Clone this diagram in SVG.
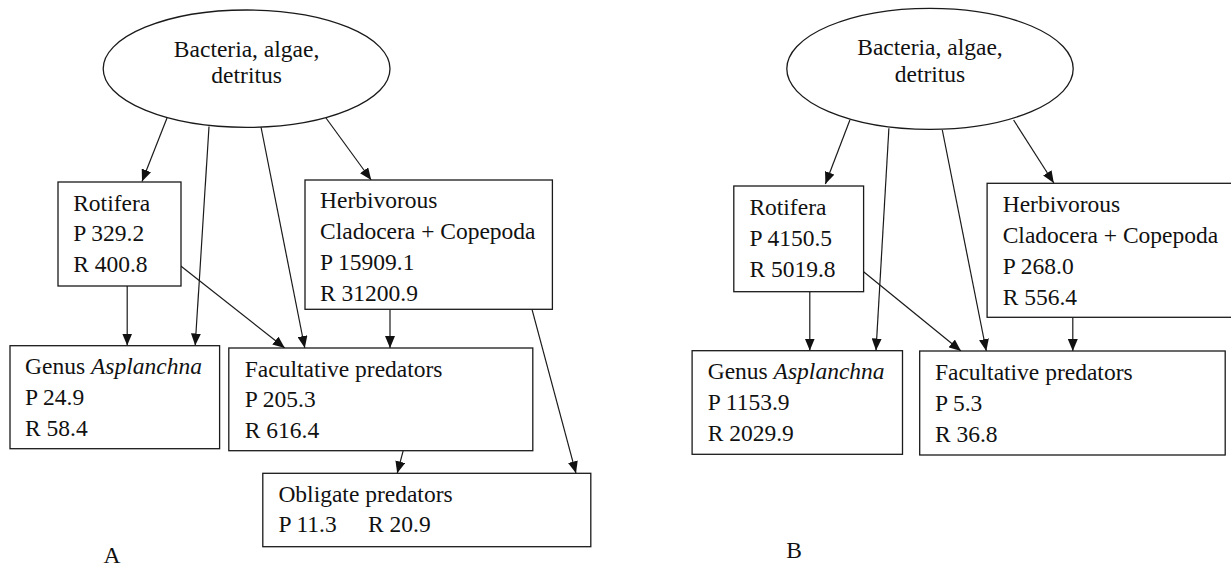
<svg xmlns="http://www.w3.org/2000/svg" width="1231" height="568" viewBox="0 0 1231 568">
<style>
.n{fill:#fff;stroke:#1a1a1a;stroke-width:1.3}
.t{font-family:'Liberation Serif','Times New Roman',serif;font-size:23.5px;fill:#111}
.c{text-anchor:middle}
.e line{stroke:#1a1a1a;stroke-width:1.2;marker-end:url(#ah)}
</style>
<defs>
<marker id="ah" markerUnits="userSpaceOnUse" markerWidth="12" markerHeight="10" refX="12" refY="5" orient="auto">
<path d="M0,0 L12,5 L0,10 z" fill="#111"/>
</marker>
</defs>
<rect width="1231" height="568" fill="#fff"/>

<g id="connectors-A" class="e">
<line x1="167" y1="118" x2="142" y2="181.5"/>
<line x1="209" y1="126.5" x2="195.2" y2="345.5"/>
<line x1="261" y1="127" x2="304.8" y2="348"/>
<line x1="326" y1="118" x2="371.2" y2="180"/>
<line x1="127.2" y1="285.7" x2="127.2" y2="345.5"/>
<line x1="180.8" y1="266" x2="284.8" y2="348"/>
<line x1="390" y1="309.3" x2="390" y2="348"/>
<line x1="532" y1="309.3" x2="576" y2="473.3"/>
<line x1="403.2" y1="450.7" x2="397.2" y2="473.3"/>
</g>

<g id="A-source">
<ellipse class="n" cx="246.6" cy="68.7" rx="143.4" ry="58.7"/>
<text class="t c" x="246.6" y="57">Bacteria, algae,</text>
<text class="t c" x="246.6" y="83">detritus</text>
</g>
<g id="A-rotifera">
<rect class="n" x="58" y="182" width="123" height="104"/>
<text class="t" x="73.2" y="211">Rotifera</text>
<text class="t" x="73.2" y="241">P 329.2</text>
<text class="t" x="73.2" y="271.7">R 400.8</text>
</g>
<g id="A-herbivorous">
<rect class="n" x="305" y="180" width="247.4" height="129.3"/>
<text class="t" x="320" y="208.3">Herbivorous</text>
<text class="t" x="320" y="239.3">Cladocera + Copepoda</text>
<text class="t" x="320" y="270">P 15909.1</text>
<text class="t" x="320" y="300.7">R 31200.9</text>
</g>
<g id="A-asplanchna">
<rect class="n" x="10" y="345.7" width="209.6" height="103"/>
<text class="t" x="25" y="374.3">Genus <tspan font-style="italic">Asplanchna</tspan></text>
<text class="t" x="25" y="405">P 24.9</text>
<text class="t" x="25" y="435.7">R 58.4</text>
</g>
<g id="A-facultative">
<rect class="n" x="228.8" y="348" width="304" height="102.7"/>
<text class="t" x="244.8" y="376.7">Facultative predators</text>
<text class="t" x="244.8" y="406.7">P 205.3</text>
<text class="t" x="244.8" y="437.7">R 616.4</text>
</g>
<g id="A-obligate">
<rect class="n" x="262.8" y="473.3" width="328" height="73.4"/>
<text class="t" x="278.4" y="502.3">Obligate predators</text>
<text class="t" x="278.4" y="532.3">P 11.3</text>
<text class="t" x="368" y="532.3">R 20.9</text>
</g>
<text id="label-A" class="t c" x="112" y="563">A</text>

<g id="connectors-B" class="e">
<line x1="849.9" y1="120" x2="825.4" y2="184"/>
<line x1="888.9" y1="128.3" x2="876" y2="350.5"/>
<line x1="942.3" y1="130" x2="986.3" y2="351"/>
<line x1="1013.6" y1="120" x2="1053.8" y2="183"/>
<line x1="809.8" y1="291.7" x2="809.8" y2="350.5"/>
<line x1="863.6" y1="271.7" x2="961" y2="351"/>
<line x1="1072.8" y1="317.3" x2="1072.8" y2="351"/>
</g>

<g id="B-source">
<ellipse class="n" cx="930" cy="68.8" rx="143.2" ry="60.5"/>
<text class="t c" x="930" y="55">Bacteria, algae,</text>
<text class="t c" x="930" y="81.7">detritus</text>
</g>
<g id="B-rotifera">
<rect class="n" x="733.8" y="186" width="129.8" height="105.7"/>
<text class="t" x="749.4" y="215">Rotifera</text>
<text class="t" x="749.4" y="246">P 4150.5</text>
<text class="t" x="749.4" y="276.7">R 5019.8</text>
</g>
<g id="B-herbivorous">
<rect class="n" x="987.1" y="183.3" width="260" height="134"/>
<text class="t" x="1002.7" y="211.7">Herbivorous</text>
<text class="t" x="1002.7" y="243.3">Cladocera + Copepoda</text>
<text class="t" x="1002.7" y="274">P 268.0</text>
<text class="t" x="1002.7" y="305">R 556.4</text>
</g>
<g id="B-asplanchna">
<rect class="n" x="692.1" y="350.7" width="210.4" height="103.6"/>
<text class="t" x="707.7" y="379.3">Genus <tspan font-style="italic">Asplanchna</tspan></text>
<text class="t" x="707.7" y="410">P 1153.9</text>
<text class="t" x="707.7" y="440.7">R 2029.9</text>
</g>
<g id="B-facultative">
<rect class="n" x="919.7" y="351" width="305.5" height="104"/>
<text class="t" x="934.9" y="380">Facultative predators</text>
<text class="t" x="934.9" y="410.7">P 5.3</text>
<text class="t" x="934.9" y="441.7">R 36.8</text>
</g>
<text id="label-B" class="t c" x="794.2" y="558">B</text>
</svg>
